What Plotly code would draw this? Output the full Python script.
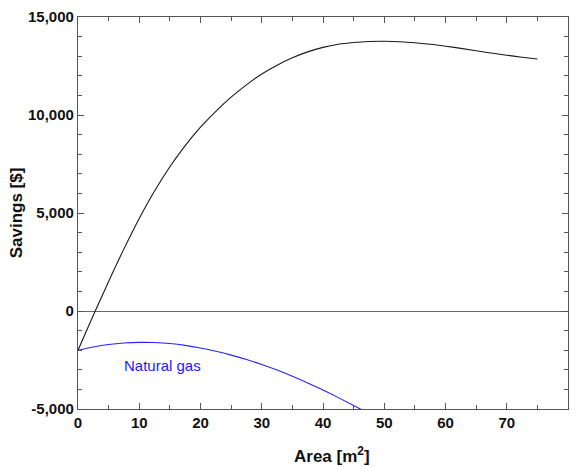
import plotly.graph_objects as go

# Area [m2]
area_total = [0, 2.5, 5, 7.5, 10, 12.5, 15, 17.5, 20, 22.5, 25, 27.5, 30, 32.5, 35, 37.5,
              40, 42.5, 45, 47.5, 50, 52.5, 55, 57.5, 60, 62.5, 65, 67.5, 70, 72.5, 75]
savings_total = [-2000, -220, 1510, 3170, 4720, 6120, 7360, 8440, 9380, 10190, 10910, 11540,
                 12090, 12540, 12920, 13220, 13450, 13610, 13700, 13750, 13760, 13740, 13690,
                 13610, 13510, 13400, 13280, 13160, 13050, 12950, 12860]

area_gas = [0, 2.5, 5, 7.5, 10, 12.5, 15, 17.5, 20, 22.5, 25, 27.5, 30, 32.5, 35, 37.5,
            40, 42.5, 45, 47.5]
savings_gas = [-2000, -1835, -1712, -1635, -1600, -1610, -1660, -1755, -1890, -2055, -2250,
               -2475, -2730, -3015, -3330, -3670, -4035, -4420, -4820, -5230]

x_ticks = [0, 10, 20, 30, 40, 50, 60, 70, 80]
y_ticks = [-5000, 0, 5000, 10000, 15000]
y_ticklabels = ["-5,000", "0", "5,000", "10,000", "15,000"]

FONT = "Liberation Sans, Arial, sans-serif"

fig = go.Figure()
fig.add_trace(go.Scatter(x=area_total, y=savings_total, mode="lines",
                         line=dict(color="#1a1a1a", width=1.1, shape="spline", smoothing=1.0),
                         showlegend=False))
fig.add_trace(go.Scatter(x=area_gas, y=savings_gas, mode="lines",
                         line=dict(color="#2525ff", width=1.1, shape="spline", smoothing=1.0),
                         showlegend=False))

fig.add_annotation(x=13.8, y=-2800, text="Natural gas", showarrow=False,
                   font=dict(family=FONT, size=15, color="#1a1aff"))

# x-axis title placed as an annotation (slightly right of centre, like the reference)
fig.add_annotation(x=0.518, y=-0.117, xref="paper", yref="paper", xanchor="center", yanchor="middle",
                   text="Area [m<sup>2</sup>]", showarrow=False,
                   font=dict(family=FONT, size=17, color="#111111", weight="bold"))

axis_common = dict(showline=True, linecolor="#555555", linewidth=1.3, mirror="allticks",
                   ticks="inside", ticklen=6, tickwidth=1.2, tickcolor="#555555",
                   showgrid=False, tickfont=dict(family=FONT, size=15, color="#111111", weight="bold"))

fig.update_xaxes(range=[0, 80], tickvals=x_ticks, zeroline=False,
                 minor=dict(ticks="inside", dtick=5, ticklen=4, tickcolor="#555555", tickwidth=1.2),
                 **axis_common)
fig.update_yaxes(range=[-5000, 15000], tickvals=y_ticks, ticktext=y_ticklabels,
                 zeroline=True, zerolinecolor="#666666", zerolinewidth=1.2,
                 minor=dict(ticks="inside", dtick=1000, ticklen=4, tickcolor="#555555", tickwidth=1.2),
                 title=dict(text="Savings [$]", font=dict(family=FONT, size=17, color="#111111", weight="bold"),
                            standoff=1),
                 **axis_common)

fig.update_layout(width=576, height=467, margin=dict(l=78, r=8, t=17, b=58),
                  plot_bgcolor="white", paper_bgcolor="white", font=dict(family=FONT))

fig.write_html("out.html")
